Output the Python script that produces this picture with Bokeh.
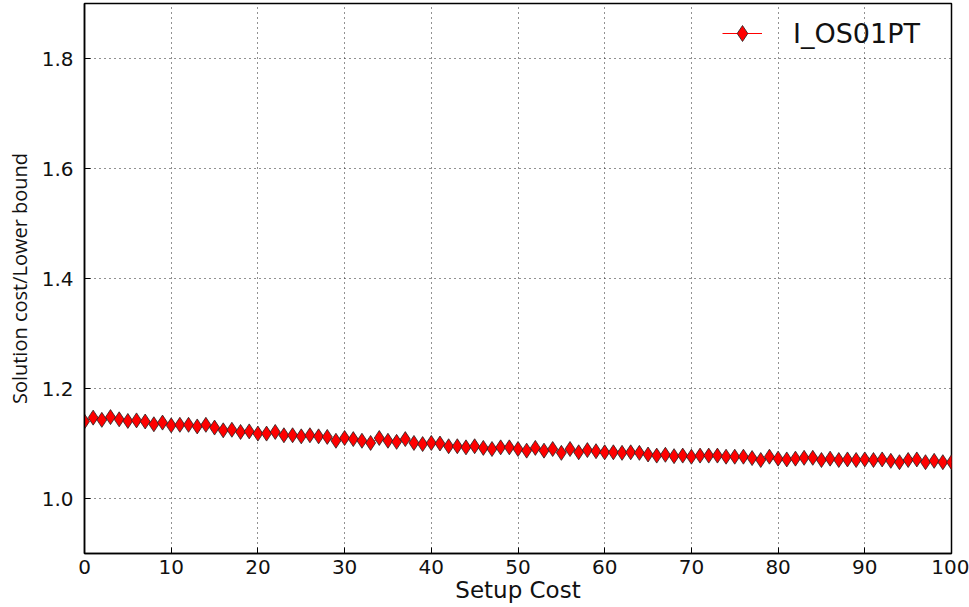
from bokeh.plotting import figure
from bokeh.models import (Range1d, FixedTicker, PrintfTickFormatter,
                          Legend, LegendItem)
from bokeh.embed import file_html
from bokeh.resources import INLINE

# ---------------- data ----------------
setup_cost = list(range(0, 101))
ratio = [
    1.140, 1.147, 1.143, 1.148, 1.144, 1.141, 1.142, 1.140, 1.135, 1.138,
    1.133, 1.134, 1.134, 1.131, 1.134, 1.129, 1.124, 1.125, 1.121, 1.122,
    1.118, 1.118, 1.121, 1.115, 1.115, 1.113, 1.115, 1.113, 1.112, 1.105,
    1.110, 1.108, 1.105, 1.101, 1.110, 1.105, 1.103, 1.108, 1.101, 1.099,
    1.101, 1.100, 1.095, 1.095, 1.093, 1.095, 1.092, 1.090, 1.093, 1.093,
    1.090, 1.087, 1.092, 1.087, 1.090, 1.083, 1.090, 1.084, 1.088, 1.086,
    1.084, 1.084, 1.083, 1.084, 1.083, 1.080, 1.078, 1.0795, 1.077, 1.078,
    1.076, 1.078, 1.078, 1.078, 1.076, 1.076, 1.076, 1.0735, 1.070, 1.076,
    1.0725, 1.071, 1.0725, 1.074, 1.074, 1.070, 1.0725, 1.070, 1.071, 1.070,
    1.071, 1.070, 1.071, 1.0685, 1.066, 1.070, 1.071, 1.066, 1.0685, 1.066,
    1.066,
]
series_name = "I_OS01PT"
x_ticks = [0, 10, 20, 30, 40, 50, 60, 70, 80, 90, 100]
y_ticks = [1.0, 1.2, 1.4, 1.6, 1.8]
x_label = "Setup Cost"
y_label = "Solution cost/Lower bound"

# ---------------- figure ----------------
p = figure(width=969, height=607, output_backend="svg", toolbar_location=None,
           x_range=Range1d(0, 100), y_range=Range1d(0.9, 1.9),
           min_border_left=84, min_border_right=18, min_border_top=3,
           min_border_bottom=54)
p.background_fill_color = "white"
p.border_fill_color = "white"
p.outline_line_color = "black"
p.outline_line_width = 1.5

line_r = p.line(setup_cost, ratio, line_color="red", line_width=1)
mark_r = p.scatter(setup_cost, ratio, marker="diamond", size=15,
                   fill_color="red", line_color="#222222", line_width=0.8)

tick_font = "DejaVu Sans"
for ax in (p.xaxis[0], p.yaxis[0]):
    ax.axis_line_color = "black"
    ax.axis_line_width = 1.5
    ax.major_tick_in = 6
    ax.major_tick_out = 0
    ax.minor_tick_in = 0
    ax.minor_tick_out = 0
    ax.major_tick_line_color = "black"
    ax.major_label_text_font = tick_font
    ax.major_label_text_font_size = "20px"
    ax.major_label_text_color = "#111111"
    ax.axis_label_text_font_style = "normal"
    ax.axis_label_text_color = "#111111"

p.xaxis[0].ticker = FixedTicker(ticks=x_ticks)
p.yaxis[0].ticker = FixedTicker(ticks=y_ticks)
p.yaxis[0].formatter = PrintfTickFormatter(format="%.1f")
p.xaxis[0].major_label_standoff = 6
p.yaxis[0].major_label_standoff = 11

p.xaxis[0].axis_label = x_label
p.xaxis[0].axis_label_text_font = "DejaVu Sans"
p.xaxis[0].axis_label_text_font_size = "23px"
p.xaxis[0].axis_label_standoff = 0

p.yaxis[0].axis_label = y_label
p.yaxis[0].axis_label_text_font = "Open Sans"
p.yaxis[0].axis_label_text_font_size = "20px"
p.yaxis[0].axis_label_standoff = 6

p.xgrid.grid_line_color = "#222222"
p.ygrid.grid_line_color = "#222222"
p.xgrid.grid_line_dash = "1 4"
p.ygrid.grid_line_dash = "1 4"
p.xgrid.ticker = FixedTicker(ticks=x_ticks)
p.ygrid.ticker = FixedTicker(ticks=y_ticks)

legend = Legend(items=[LegendItem(label=series_name, renderers=[line_r, mark_r])],
                location="top_right", border_line_color=None,
                background_fill_alpha=0, glyph_width=40, glyph_height=60,
                label_standoff=31, label_width=158, label_text_font="DejaVu Sans",
                label_text_font_size="27px", label_text_color="#111111",
                padding=0, margin=0)
p.add_layout(legend)

open("out.html", "w").write(file_html(p, INLINE))
